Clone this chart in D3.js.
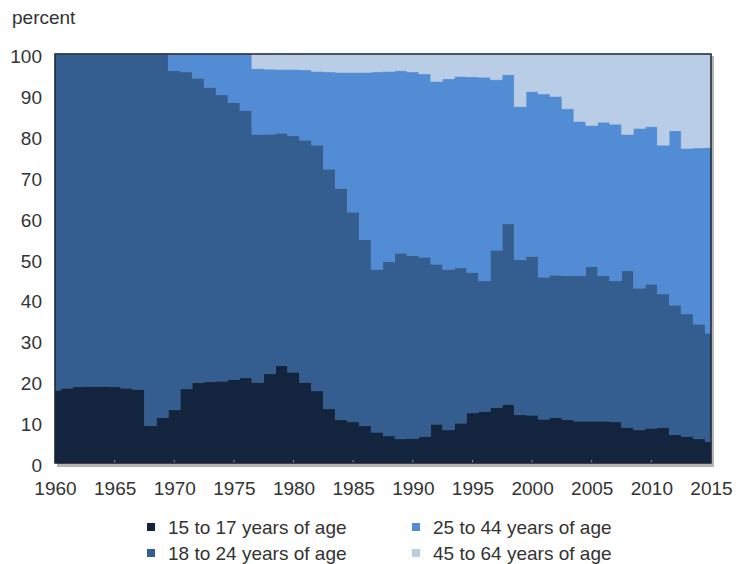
<!DOCTYPE html>
<html>
<head>
<meta charset="utf-8">
<script src="https://cdn.jsdelivr.net/npm/d3@7"></script>
<style>
  html, body { margin: 0; padding: 0; background: #fff; }
  svg text { font-family: "Liberation Sans", Arial, sans-serif; fill: #333; }
</style>
</head>
<body>
<div id="chart"></div>
<script>
// share of workers by age group, percent
var years = d3.range(1960, 2016)

var age15to17 = [17.8, 18.3, 18.6, 18.7, 18.7, 18.6, 18.3, 18.0, 9.1, 11.1,
    13.0, 18.1, 19.6, 19.8, 20.0, 20.4, 20.8, 19.7, 21.8, 23.8,
    22.2, 19.7, 17.6, 13.2, 10.6, 10.0, 9.1, 7.5, 6.6, 5.9,
    6.0, 6.5, 9.5, 8.1, 9.7, 12.2, 12.6, 13.6, 14.3, 11.8,
    11.7, 10.7, 11.1, 10.6, 10.2, 10.2, 10.2, 10.0, 8.7, 8.1,
    8.5, 8.7, 6.9, 6.5, 5.9, 5.2]

var age18to24 = [82.2, 81.7, 81.4, 81.3, 81.3, 81.4, 81.7, 82.0, 90.9, 88.9,
    82.9, 77.5, 74.5, 72.0, 70.0, 67.7, 65.4, 60.6, 58.6, 56.8,
    57.8, 59.2, 60.1, 58.6, 56.5, 51.3, 45.5, 39.8, 42.6, 45.4,
    44.7, 43.8, 39.1, 39.2, 38.0, 34.4, 31.9, 38.4, 44.2, 37.9,
    38.8, 34.7, 34.8, 35.2, 35.6, 37.8, 35.6, 34.5, 38.3, 34.6,
    35.2, 32.6, 31.7, 29.9, 28.0, 26.5]

var age25to44 = [0, 0, 0, 0, 0, 0, 0, 0, 0, 0,
    4.1, 4.4, 5.9, 8.2, 10.0, 11.9, 13.8, 16.1, 15.9, 15.6,
    16.2, 17.2, 18.0, 23.8, 28.4, 34.2, 40.9, 48.3, 46.5, 44.6,
    44.9, 44.8, 44.7, 46.6, 46.8, 47.8, 49.8, 41.7, 36.4, 37.4,
    40.3, 44.8, 43.7, 40.8, 37.7, 34.5, 37.5, 38.3, 33.3, 39.1,
    38.5, 36.4, 42.6, 40.5, 43.1, 45.4]

var age45to64 = [0, 0, 0, 0, 0, 0, 0, 0, 0, 0,
    0, 0, 0, 0, 0, 0, 0, 3.6, 3.7, 3.8,
    3.8, 3.9, 4.3, 4.4, 4.5, 4.5, 4.5, 4.4, 4.3, 4.1,
    4.4, 4.9, 6.7, 6.1, 5.5, 5.6, 5.7, 6.3, 5.1, 12.9,
    9.2, 9.8, 10.4, 13.4, 16.5, 17.5, 16.7, 17.2, 19.7, 18.2,
    17.8, 22.3, 18.8, 23.1, 23.0, 22.9]

var seriesNames = ['15 to 17 years of age', '18 to 24 years of age',
    '25 to 44 years of age', '45 to 64 years of age']
var xTicks = d3.range(1960, 2016, 5)
var yTicks = d3.range(0, 101, 10)

var colors = ['#12243e', '#355e90', '#528cd5', '#b9cde6']

var width = 741,
    height = 564,
    margins = {top: 54, right: 30, bottom: 101, left: 55},
    plotW = width - margins.left - margins.right,
    plotH = height - margins.top - margins.bottom

var rows = years.map(function(y, i) {
    return {year: y, s0: age15to17[i], s1: age18to24[i], s2: age25to44[i], s3: age45to64[i]}
})

var stack = d3.stack().keys(['s0', 's1', 's2', 's3'])
var layers = stack(rows)

var x = d3.scaleLinear().domain([1960, 2015]).range([0, plotW])
var y = d3.scaleLinear().domain([0, 100]).range([plotH, 0])

// d3.curveStep puts each change halfway between two years
var area = d3.area()
    .curve(d3.curveStep)
    .x(function(d) { return x(d.data.year) })
    .y0(function(d) { return y(d[0]) })
    .y1(function(d) { return y(Math.min(100, d[1])) })

var svg = d3.select('#chart').append('svg')
    .attr('width', width)
    .attr('height', height)

svg.append('text')
    .attr('x', 12)
    .attr('y', 24)
    .style('font-size', '19px')
    .text('percent')

var g = svg.append('g')
    .attr('transform', 'translate(' + margins.left + ',' + margins.top + ')')

// soft shadow behind the plot
g.append('rect')
    .attr('x', 2).attr('y', 2)
    .attr('width', plotW + 1).attr('height', plotH + 2)
    .attr('fill', '#b5b5b5')

g.selectAll('path.layer')
    .data(layers)
    .enter().append('path')
    .attr('class', 'layer')
    .attr('d', area)
    .attr('fill', function(d, i) { return colors[i] })
    .attr('stroke', function(d, i) { return colors[i] })
    .attr('stroke-width', 0.4)

// small tick marks inside the bottom edge
g.selectAll('line.tick')
    .data(xTicks.slice(1, -1))
    .enter().append('line')
    .attr('class', 'tick')
    .attr('x1', function(d) { return x(d) })
    .attr('x2', function(d) { return x(d) })
    .attr('y1', plotH - 3)
    .attr('y2', plotH)
    .attr('stroke', '#8a97a8')
    .attr('stroke-width', 1)

g.append('rect')
    .attr('width', plotW)
    .attr('height', plotH)
    .attr('fill', 'none')
    .attr('stroke', '#1e2633')
    .attr('stroke-width', 1.5)

var xAxis = d3.axisBottom(x).tickValues(xTicks).tickFormat(d3.format('d')).tickSize(0).tickPadding(19)
g.append('g')
    .attr('transform', 'translate(0,' + plotH + ')')
    .call(xAxis)
    .call(function(a) { a.select('.domain').remove() })
    .selectAll('text')
    .style('font-size', '19px')

var yAxis = d3.axisLeft(y).tickValues(yTicks).tickSize(0).tickPadding(13)
g.append('g')
    .call(yAxis)
    .call(function(a) { a.select('.domain').remove() })
    .selectAll('text')
    .attr('dy', '0.45em')
    .style('font-size', '19px')

var legend = svg.append('g')
var legendPos = [[147, 527], [147, 553], [412, 527], [412, 553]]

seriesNames.forEach(function(name, i) {
    var item = legend.append('g')
        .attr('transform', 'translate(' + legendPos[i][0] + ',' + legendPos[i][1] + ')')
    item.append('rect')
        .attr('x', 0).attr('y', -4)
        .attr('width', 8).attr('height', 8)
        .attr('fill', colors[i])
    item.append('text')
        .attr('x', 21)
        .attr('dy', '0.36em')
        .style('font-size', '19px')
        .text(name)
})
</script>
</body>
</html>
